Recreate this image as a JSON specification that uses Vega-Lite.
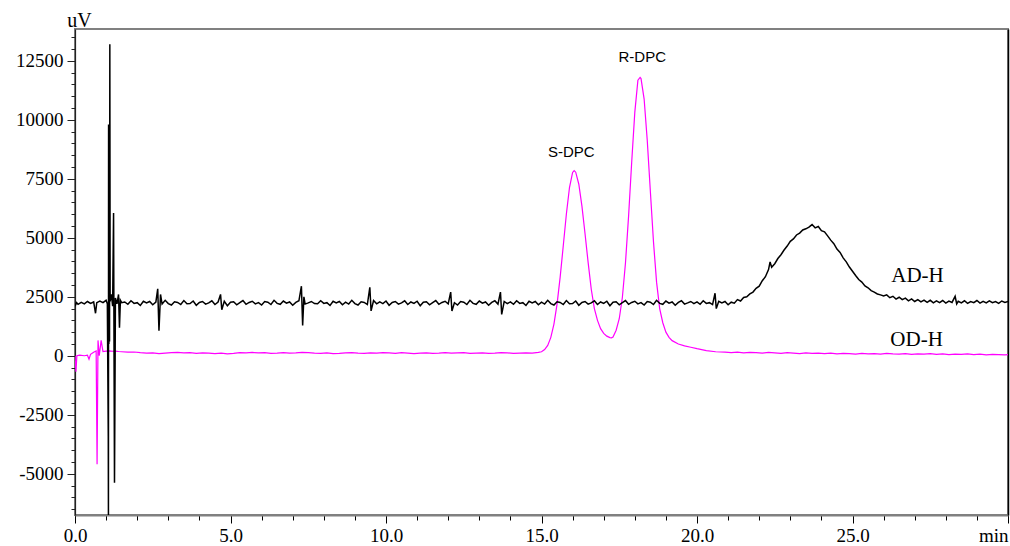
{
"$schema": "https://vega.github.io/schema/vega-lite/v6.json",
"width": 933, "height": 486,
"autosize": {"type": "none"},
"padding": {"left": 75, "top": 29, "right": 2, "bottom": 31},
"background": "white",
"config": {"view": {"stroke": "#808080", "strokeWidth": 2}},
"resolve": {"axis": {"y": "independent"}},
"datasets": {
"ad": [
{"t":0.0,"v":2100},{"t":0.05,"v":2250},{"t":0.1,"v":2180},{"t":0.2,"v":2260},{"t":0.3,"v":2200},{"t":0.4,"v":2300},{"t":0.5,"v":2220},{"t":0.6,"v":2280},{"t":0.66,"v":1800},{"t":0.7,"v":2250},{"t":0.8,"v":2320},{"t":0.9,"v":2250},{"t":1.0,"v":2350},{"t":1.04,"v":2200},{"t":1.07,"v":-3400},{"t":1.075,"v":-6900},{"t":1.08,"v":9800},{"t":1.09,"v":500},{"t":1.1,"v":9700},{"t":1.11,"v":600},{"t":1.12,"v":13200},{"t":1.13,"v":2300},{"t":1.17,"v":2600},{"t":1.21,"v":2100},{"t":1.24,"v":6050},{"t":1.27,"v":-5380},{"t":1.3,"v":2450},{"t":1.35,"v":2200},{"t":1.4,"v":2600},{"t":1.43,"v":1190},{"t":1.46,"v":2350},{"t":1.5,"v":2250},
{"t":1.6,"v":2280},{"t":1.7,"v":2180},{"t":1.8,"v":2330},{"t":1.9,"v":2220},{"t":2.0,"v":2250},{"t":2.1,"v":2130},{"t":2.2,"v":2310},{"t":2.3,"v":2240},{"t":2.4,"v":2300},{"t":2.5,"v":2160},{"t":2.6,"v":2270},{"t":2.66,"v":2840},{"t":2.7,"v":1060},{"t":2.75,"v":2600},{"t":2.8,"v":2190},{"t":2.9,"v":2350},{"t":3.0,"v":2210},{"t":3.1,"v":2150},{"t":3.2,"v":2290},{"t":3.3,"v":2260},{"t":3.4,"v":2170},{"t":3.5,"v":2340},{"t":3.6,"v":2200},
{"t":3.7,"v":2210},{"t":3.8,"v":2320},{"t":3.9,"v":2140},{"t":4.0,"v":2260},{"t":4.1,"v":2300},{"t":4.2,"v":2190},{"t":4.3,"v":2240},{"t":4.4,"v":2330},{"t":4.5,"v":2170},{"t":4.6,"v":2280},{"t":4.68,"v":2600},{"t":4.72,"v":1950},{"t":4.8,"v":2310},{"t":4.9,"v":2120},{"t":5.0,"v":2270},{"t":5.1,"v":2290},{"t":5.2,"v":2160},{"t":5.3,"v":2250},{"t":5.4,"v":2340},{"t":5.5,"v":2180},{"t":5.6,"v":2260},
{"t":5.7,"v":2310},{"t":5.8,"v":2200},{"t":5.9,"v":2250},{"t":6.0,"v":2150},{"t":6.1,"v":2300},{"t":6.2,"v":2270},{"t":6.3,"v":2170},{"t":6.4,"v":2350},{"t":6.5,"v":2220},{"t":6.6,"v":2180},{"t":6.7,"v":2320},{"t":6.8,"v":2230},{"t":6.9,"v":2280},{"t":7.0,"v":2140},{"t":7.1,"v":2260},{"t":7.2,"v":2330},{"t":7.28,"v":2950},{"t":7.32,"v":1280},{"t":7.36,"v":2500},{"t":7.4,"v":2190},{"t":7.5,"v":2240},{"t":7.6,"v":2300},{"t":7.7,"v":2210},
{"t":7.8,"v":2200},{"t":7.9,"v":2330},{"t":8.0,"v":2220},{"t":8.1,"v":2250},{"t":8.2,"v":2130},{"t":8.3,"v":2310},{"t":8.4,"v":2240},{"t":8.5,"v":2300},{"t":8.6,"v":2160},{"t":8.7,"v":2270},{"t":8.8,"v":2190},{"t":8.9,"v":2350},{"t":9.0,"v":2210},{"t":9.1,"v":2150},{"t":9.2,"v":2290},{"t":9.3,"v":2260},{"t":9.4,"v":2170},{"t":9.48,"v":2900},{"t":9.52,"v":1900},{"t":9.6,"v":2340},{"t":9.7,"v":2200},{"t":9.8,"v":2280},
{"t":9.9,"v":2210},{"t":10.0,"v":2320},{"t":10.1,"v":2140},{"t":10.2,"v":2260},{"t":10.3,"v":2300},{"t":10.4,"v":2190},{"t":10.5,"v":2240},{"t":10.6,"v":2330},{"t":10.7,"v":2170},{"t":10.8,"v":2280},{"t":10.9,"v":2220},{"t":11.0,"v":2310},{"t":11.1,"v":2120},{"t":11.2,"v":2270},{"t":11.3,"v":2290},{"t":11.4,"v":2160},{"t":11.5,"v":2250},{"t":11.6,"v":2340},{"t":11.7,"v":2180},{"t":11.8,"v":2260},{"t":11.9,"v":2310},{"t":12.0,"v":2200},{"t":12.08,"v":2700},{"t":12.12,"v":1900},
{"t":12.2,"v":2250},{"t":12.3,"v":2150},{"t":12.4,"v":2300},{"t":12.5,"v":2270},{"t":12.6,"v":2170},{"t":12.7,"v":2350},{"t":12.8,"v":2220},{"t":12.9,"v":2180},{"t":13.0,"v":2320},{"t":13.1,"v":2230},{"t":13.2,"v":2280},{"t":13.3,"v":2140},{"t":13.4,"v":2260},{"t":13.5,"v":2330},{"t":13.6,"v":2190},{"t":13.68,"v":2700},{"t":13.72,"v":1750},{"t":13.8,"v":2300},{"t":13.9,"v":2210},
{"t":14.0,"v":2280},{"t":14.1,"v":2180},{"t":14.2,"v":2330},{"t":14.3,"v":2220},{"t":14.4,"v":2250},{"t":14.5,"v":2130},{"t":14.6,"v":2310},{"t":14.7,"v":2240},{"t":14.8,"v":2300},{"t":14.9,"v":2160},{"t":15.0,"v":2270},{"t":15.1,"v":2190},{"t":15.2,"v":2350},{"t":15.3,"v":2210},{"t":15.4,"v":2150},{"t":15.5,"v":2290},{"t":15.6,"v":2260},{"t":15.7,"v":2170},{"t":15.8,"v":2340},{"t":15.9,"v":2200},
{"t":16.0,"v":2210},{"t":16.1,"v":2320},{"t":16.2,"v":2140},{"t":16.3,"v":2260},{"t":16.4,"v":2300},{"t":16.5,"v":2190},{"t":16.6,"v":2240},{"t":16.7,"v":2330},{"t":16.8,"v":2170},{"t":16.9,"v":2280},{"t":17.0,"v":2220},{"t":17.1,"v":2310},{"t":17.2,"v":2120},{"t":17.3,"v":2270},{"t":17.4,"v":2290},{"t":17.5,"v":2160},{"t":17.6,"v":2250},{"t":17.7,"v":2340},{"t":17.8,"v":2180},{"t":17.9,"v":2260},
{"t":18.0,"v":2310},{"t":18.1,"v":2200},{"t":18.2,"v":2250},{"t":18.3,"v":2150},{"t":18.4,"v":2300},{"t":18.5,"v":2270},{"t":18.6,"v":2170},{"t":18.7,"v":2350},{"t":18.8,"v":2220},{"t":18.9,"v":2180},{"t":19.0,"v":2320},{"t":19.1,"v":2230},{"t":19.2,"v":2280},{"t":19.3,"v":2140},{"t":19.4,"v":2260},{"t":19.5,"v":2330},{"t":19.6,"v":2190},{"t":19.7,"v":2240},{"t":19.8,"v":2300},{"t":19.9,"v":2210},
{"t":20.0,"v":2280},{"t":20.1,"v":2180},{"t":20.2,"v":2330},{"t":20.3,"v":2220},{"t":20.4,"v":2250},{"t":20.5,"v":2170},{"t":20.58,"v":2650},{"t":20.62,"v":2000},{"t":20.7,"v":2310},{"t":20.8,"v":2240},{"t":20.9,"v":2300},{"t":21.0,"v":2160},{"t":21.1,"v":2270},{"t":21.2,"v":2230},
{"t":21.3,"v":2380},{"t":21.4,"v":2320},{"t":21.5,"v":2470},{"t":21.6,"v":2500},{"t":21.7,"v":2620},{"t":21.8,"v":2700},{"t":21.9,"v":2860},{"t":22.0,"v":2950},{"t":22.1,"v":3180},{"t":22.2,"v":3350},{"t":22.3,"v":3650},{"t":22.35,"v":3980},{"t":22.4,"v":3750},{"t":22.5,"v":3900},{"t":22.6,"v":4120},{"t":22.7,"v":4280},{"t":22.8,"v":4480},{"t":22.9,"v":4650},{"t":23.0,"v":4850},{"t":23.1,"v":4950},{"t":23.2,"v":5120},{"t":23.3,"v":5200},{"t":23.4,"v":5330},{"t":23.5,"v":5380},{"t":23.6,"v":5450},{"t":23.7,"v":5560},{"t":23.8,"v":5420},{"t":23.9,"v":5480},{"t":24.0,"v":5300},{"t":24.1,"v":5250},{"t":24.2,"v":5080},{"t":24.3,"v":4900},{"t":24.4,"v":4750},{"t":24.5,"v":4520},{"t":24.6,"v":4380},{"t":24.7,"v":4150},{"t":24.8,"v":3980},{"t":24.9,"v":3760},{"t":25.0,"v":3580},{"t":25.1,"v":3400},{"t":25.2,"v":3230},{"t":25.3,"v":3120},{"t":25.4,"v":2960},{"t":25.5,"v":2880},{"t":25.6,"v":2760},{"t":25.7,"v":2700},{"t":25.8,"v":2620},{"t":25.9,"v":2580},{"t":26.0,"v":2530},{"t":26.1,"v":2580},{"t":26.2,"v":2460},{"t":26.3,"v":2520},{"t":26.4,"v":2400},{"t":26.5,"v":2480},{"t":26.6,"v":2380},{"t":26.7,"v":2440},{"t":26.8,"v":2330},{"t":26.9,"v":2410},
{"t":27.0,"v":2300},{"t":27.1,"v":2380},{"t":27.2,"v":2280},{"t":27.3,"v":2360},{"t":27.4,"v":2260},{"t":27.5,"v":2350},{"t":27.6,"v":2240},{"t":27.7,"v":2330},{"t":27.8,"v":2250},{"t":27.9,"v":2340},{"t":28.0,"v":2230},{"t":28.1,"v":2320},{"t":28.2,"v":2260},{"t":28.3,"v":2520},{"t":28.35,"v":2200},{"t":28.4,"v":2310},{"t":28.5,"v":2240},{"t":28.6,"v":2330},{"t":28.7,"v":2220},{"t":28.8,"v":2300},{"t":28.9,"v":2250},{"t":29.0,"v":2340},{"t":29.1,"v":2230},{"t":29.2,"v":2310},{"t":29.3,"v":2240},{"t":29.4,"v":2330},{"t":29.5,"v":2250},{"t":29.6,"v":2300},{"t":29.7,"v":2220},{"t":29.8,"v":2320},{"t":29.9,"v":2260},{"t":30.0,"v":2300}
],
"od": [
{"t":0.0,"v":0},{"t":0.03,"v":-680},{"t":0.06,"v":0},{"t":0.15,"v":30},{"t":0.3,"v":0},{"t":0.4,"v":20},{"t":0.45,"v":-150},{"t":0.5,"v":60},{"t":0.6,"v":150},{"t":0.68,"v":200},{"t":0.71,"v":-4600},{"t":0.74,"v":650},{"t":0.78,"v":0},{"t":0.84,"v":650},{"t":0.9,"v":180},{"t":1.0,"v":200},{"t":1.1,"v":210},{"t":1.2,"v":190},{"t":1.3,"v":200},{"t":1.4,"v":180},{"t":1.5,"v":170},{"t":1.7,"v":150},{"t":1.9,"v":160},{"t":2.1,"v":130},{"t":2.3,"v":110},{"t":2.5,"v":120},{"t":2.7,"v":90},{"t":2.9,"v":110},{"t":3.1,"v":130},{"t":3.3,"v":140},{"t":3.5,"v":120},{"t":3.7,"v":130},{"t":3.9,"v":100},{"t":4.1,"v":120},{"t":4.3,"v":110},{"t":4.5,"v":90},{"t":4.7,"v":110},{"t":4.9,"v":80},{"t":5.1,"v":100},{"t":5.3,"v":130},{"t":5.5,"v":120},{"t":5.7,"v":140},{"t":5.9,"v":120},{"t":6.1,"v":130},{"t":6.3,"v":100},{"t":6.5,"v":110},{"t":6.7,"v":130},{"t":6.9,"v":110},{"t":7.1,"v":120},{"t":7.3,"v":140},{"t":7.5,"v":130},{"t":7.7,"v":110},{"t":7.9,"v":100},{"t":8.1,"v":120},{"t":8.3,"v":90},{"t":8.5,"v":100},{"t":8.7,"v":120},{"t":8.9,"v":130},{"t":9.1,"v":110},{"t":9.3,"v":100},{"t":9.5,"v":120},{"t":9.7,"v":110},{"t":9.9,"v":130},{"t":10.1,"v":120},{"t":10.3,"v":100},{"t":10.5,"v":130},{"t":10.7,"v":110},{"t":10.9,"v":90},{"t":11.1,"v":110},{"t":11.3,"v":120},{"t":11.5,"v":100},{"t":11.7,"v":110},{"t":11.9,"v":130},{"t":12.1,"v":110},{"t":12.3,"v":120},{"t":12.5,"v":130},{"t":12.7,"v":100},{"t":12.9,"v":110},{"t":13.1,"v":120},{"t":13.3,"v":100},{"t":13.5,"v":110},{"t":13.7,"v":130},{"t":13.9,"v":120},{"t":14.1,"v":100},{"t":14.3,"v":110},{"t":14.5,"v":120},{"t":14.7,"v":110},{"t":14.9,"v":140},
{"t":15.0,"v":170},{"t":15.1,"v":260},{"t":15.2,"v":440},{"t":15.3,"v":780},{"t":15.4,"v":1345},{"t":15.5,"v":2190},{"t":15.6,"v":3330},{"t":15.7,"v":4660},{"t":15.8,"v":6010},{"t":15.9,"v":7130},{"t":16.0,"v":7770},{"t":16.05,"v":7850},{"t":16.1,"v":7780},{"t":16.2,"v":7270},{"t":16.3,"v":6340},{"t":16.4,"v":5170},{"t":16.5,"v":3945},{"t":16.6,"v":2820},{"t":16.7,"v":2000},{"t":16.8,"v":1500},{"t":16.9,"v":1150},{"t":17.0,"v":950},{"t":17.1,"v":830},{"t":17.2,"v":770},{"t":17.25,"v":760},{"t":17.3,"v":790},{"t":17.4,"v":1080},{"t":17.5,"v":1570},{"t":17.6,"v":2470},{"t":17.7,"v":3930},{"t":17.8,"v":5920},{"t":17.9,"v":8200},{"t":18.0,"v":10315},{"t":18.1,"v":11680},{"t":18.17,"v":11800},{"t":18.2,"v":11750},{"t":18.3,"v":10880},{"t":18.4,"v":9135},{"t":18.5,"v":6975},{"t":18.6,"v":4840},{"t":18.7,"v":3120},{"t":18.8,"v":2000},{"t":18.9,"v":1400},{"t":19.0,"v":1000},{"t":19.1,"v":780},{"t":19.2,"v":640},{"t":19.4,"v":500},{"t":19.6,"v":420},{"t":19.8,"v":360},{"t":20.0,"v":300},{"t":20.3,"v":220},{"t":20.6,"v":170},
{"t":20.9,"v":150},{"t":21.1,"v":130},{"t":21.3,"v":150},{"t":21.5,"v":120},{"t":21.7,"v":140},{"t":21.9,"v":130},{"t":22.1,"v":110},{"t":22.3,"v":140},{"t":22.5,"v":120},{"t":22.7,"v":100},{"t":22.9,"v":130},{"t":23.1,"v":110},{"t":23.3,"v":90},{"t":23.5,"v":120},{"t":23.7,"v":100},{"t":23.9,"v":110},{"t":24.1,"v":90},{"t":24.3,"v":110},{"t":24.5,"v":80},{"t":24.7,"v":100},{"t":24.9,"v":90},{"t":25.1,"v":70},{"t":25.3,"v":100},{"t":25.5,"v":80},{"t":25.7,"v":90},{"t":25.9,"v":70},{"t":26.1,"v":100},{"t":26.3,"v":80},{"t":26.5,"v":70},{"t":26.7,"v":90},{"t":26.9,"v":60},{"t":27.1,"v":80},{"t":27.3,"v":70},{"t":27.5,"v":90},{"t":27.7,"v":60},{"t":27.9,"v":80},{"t":28.1,"v":50},{"t":28.3,"v":70},{"t":28.5,"v":60},{"t":28.7,"v":80},{"t":28.9,"v":50},{"t":29.1,"v":70},{"t":29.3,"v":40},{"t":29.5,"v":60},{"t":29.7,"v":50},{"t":29.9,"v":40},{"t":30.0,"v":50}
],
"labels": [
{"t":15.96,"v":8640,"label":"S-DPC","kind":"peak"},
{"t":18.24,"v":12660,"label":"R-DPC","kind":"peak"},
{"t":27.09,"v":3390,"label":"AD-H","kind":"col"},
{"t":27.06,"v":680,"label":"OD-H","kind":"col"}
]
},
"layer": [
{
"data": {"name": "od"},
"mark": {"type": "line", "color": "#ff00ff", "strokeWidth": 1.2, "clip": true},
"encoding": {
"x": {"field": "t", "type": "quantitative", "scale": {"domain": [0, 30], "nice": false, "zero": false},
"axis": {"values": [0,1,2,3,4,5,6,7,8,9,10,11,12,13,14,15,16,17,18,19,20,21,22,23,24,25,26,27,28,29,30],
"tickCount": 1000,
"title": null, "grid": false, "domainColor": "#808080", "domainWidth": 2, "tickColor": "#000", "tickWidth": 1,
"tickSize": {"condition": {"test": "datum.value % 5 === 0", "value": 8}, "value": 5},
"labelFont": "Liberation Serif", "labelFontSize": 19, "labelColor": "#000", "labelPadding": 3,
"labelExpr": "datum.value === 30 ? 'min' : (datum.value % 5 === 0 ? format(datum.value, '.1f') : '')",
"labelAlign": {"condition": {"test": "datum.value === 30", "value": "right"}, "value": "center"},
"labelOverlap": false, "labelFlush": false}},
"y": {"field": "v", "type": "quantitative", "scale": {"domain": [-6750, 13850], "nice": false, "zero": false},
"axis": {"values": [-6500,-6000,-5500,-5000,-4500,-4000,-3500,-3000,-2500,-2000,-1500,-1000,-500,0,500,1000,1500,2000,2500,3000,3500,4000,4500,5000,5500,6000,6500,7000,7500,8000,8500,9000,9500,10000,10500,11000,11500,12000,12500,13000,13500],
"tickCount": 1000, "orient": "left",
"title": "uV", "titleAngle": 0, "titleFont": "Liberation Serif", "titleFontSize": 20, "titleFontWeight": "normal", "titleColor": "#000",
"titleX": 4, "titleY": -3, "titleAlign": "center", "titleBaseline": "alphabetic",
"grid": false, "domainColor": "#222", "domainWidth": 1.2, "tickColor": "#222",
"tickSize": {"condition": {"test": "datum.value % 2500 === 0", "value": 8}, "value": 4},
"labelFont": "Liberation Serif", "labelFontSize": 19, "labelColor": "#000", "labelPadding": 4,
"labelExpr": "datum.value % 2500 === 0 ? ('' + datum.value) : ''",
"labelOverlap": false, "labelFlush": false}}
}
},
{
"data": {"name": "ad"},
"mark": {"type": "line", "color": "#000000", "strokeWidth": 1.5, "clip": true},
"encoding": {
"x": {"field": "t", "type": "quantitative"},
"y": {"field": "v", "type": "quantitative",
"axis": {"orient": "right", "labels": false, "ticks": false, "title": null, "grid": false, "domainColor": "#000", "domainWidth": 1.5}}
}
},
{
"data": {"name": "labels"},
"transform": [{"filter": "datum.kind === 'peak'"}],
"mark": {"type": "text", "font": "Liberation Sans", "fontSize": 15, "color": "#000", "baseline": "middle", "align": "center"},
"encoding": {
"x": {"field": "t", "type": "quantitative"},
"y": {"field": "v", "type": "quantitative", "axis": null},
"text": {"field": "label"}
}
},
{
"data": {"name": "labels"},
"transform": [{"filter": "datum.kind === 'col'"}],
"mark": {"type": "text", "font": "Liberation Serif", "fontSize": 21, "color": "#000", "baseline": "middle", "align": "center"},
"encoding": {
"x": {"field": "t", "type": "quantitative"},
"y": {"field": "v", "type": "quantitative", "axis": null},
"text": {"field": "label"}
}
}
]
}
